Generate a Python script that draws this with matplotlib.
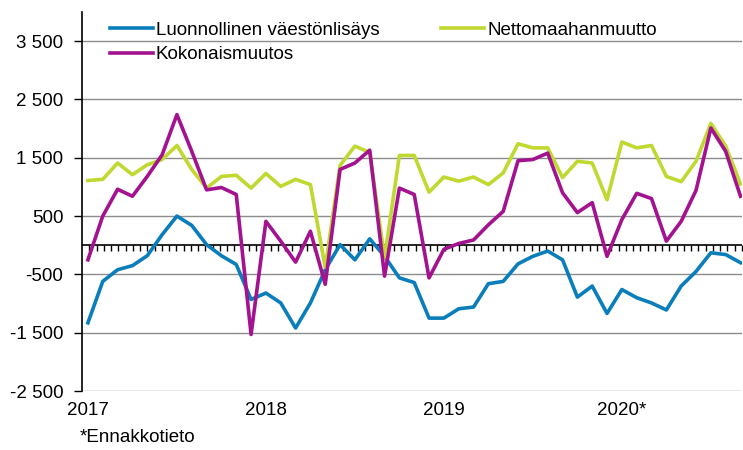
import numpy as np
import matplotlib
matplotlib.use('Agg')
import matplotlib.pyplot as plt
from matplotlib.ticker import FuncFormatter, FixedLocator

plt.rcParams['font.family'] = ['Liberation Sans', 'DejaVu Sans']

# monthly values, Jan 2017 - Sep 2020
luonnollinen = [-1330, -620, -420, -350, -180, 180, 500, 340, 10, -180, -330, -930,
                -820, -990, -1420, -990, -420, 10, -250, 110, -190, -560, -640, -1250,
                -1250, -1090, -1060, -660, -620, -320, -190, -100, -250, -890, -700, -1170,
                -760, -900, -990, -1110, -700, -450, -130, -160, -300]
netto = [1110, 1130, 1410, 1210, 1380, 1470, 1710, 1300, 980, 1180, 1200, 980,
         1230, 1010, 1130, 1040, -380, 1370, 1700, 1590, -220, 1540, 1540, 910,
         1170, 1100, 1170, 1040, 1240, 1740, 1670, 1670, 1160, 1440, 1410, 780,
         1770, 1670, 1710, 1180, 1090, 1440, 2090, 1700, 1050]
kokonais = [-250, 500, 960, 840, 1180, 1550, 2240, 1610, 950, 990, 870, -1530,
            410, 70, -290, 240, -670, 1300, 1410, 1630, -530, 980, 870, -560,
            -70, 30, 90, 350, 580, 1450, 1470, 1580, 900, 560, 730, -190,
            440, 890, 800, 70, 410, 940, 2010, 1610, 840]
year_labels = ['2017', '2018', '2019', '2020*']
year_pos = [0, 12, 24, 36]

blue = '#0A7DBB'
green = '#C1D830'
magenta = '#A3128F'
fs = 13.5

x = np.arange(len(luonnollinen))

fig = plt.figure(figsize=(7.43, 4.5), dpi=100)
ax = fig.add_axes([82 / 743, 1 - 391 / 450, 660 / 743, 379 / 450])

ymin, ymax = -2500, 4000
xmin, xmax = -0.4, 44.1
ax.set_ylim(ymin, ymax)
ax.set_xlim(xmin, xmax)

yt = np.arange(-2500, 3501, 1000)
ax.set_yticks(yt)
ax.yaxis.set_major_formatter(FuncFormatter(lambda v, p: f'{int(v):,}'.replace(',', ' ')))
ax.grid(axis='y', color='#8c8c8c', linewidth=1.0)
ax.set_axisbelow(True)
ax.tick_params(axis='y', direction='out', length=6, width=1, pad=7.5, labelsize=fs, colors='black')

for s in ['top', 'right', 'bottom']:
    ax.spines[s].set_visible(False)
ax.spines['left'].set_linewidth(1.2)

ax.set_xticks(year_pos)
ax.set_xticklabels(year_labels)
ax.tick_params(axis='x', length=0, pad=8, labelsize=fs)

# zero line with small hanging ticks
ax.axhline(0, color='black', linewidth=1.2, zorder=2)
sec = ax.secondary_xaxis((0 - ymin) / (ymax - ymin))
sec.spines['bottom'].set_visible(False)
sec.xaxis.set_major_locator(FixedLocator(np.linspace(xmin, xmax, 92)[1:]))
sec.tick_params(axis='x', direction='out', length=4.5, width=1, labelbottom=False, color='black')

lw = 2.6
l1, = ax.plot(x, luonnollinen, color=blue, linewidth=lw, label='Luonnollinen väestönlisäys', zorder=3)
l2, = ax.plot(x, netto, color=green, linewidth=lw, label='Nettomaahanmuutto', zorder=3)
l3, = ax.plot(x, kokonais, color=magenta, linewidth=lw, label='Kokonaismuutos', zorder=4)

leg = ax.legend(handles=[l1, l3, l2], ncol=2, loc='upper left', bbox_to_anchor=(24 / 660, 1 - 6 / 379),
                frameon=False, fontsize=fs, handlelength=2.3, handletextpad=0.15,
                columnspacing=3.3, labelspacing=0.38, borderpad=0.2, borderaxespad=0)

fig.text(80 / 743, 1 - 438 / 450, '*Ennakkotieto', fontsize=fs, va='center', ha='left')

fig.savefig('out.png', dpi=100)
